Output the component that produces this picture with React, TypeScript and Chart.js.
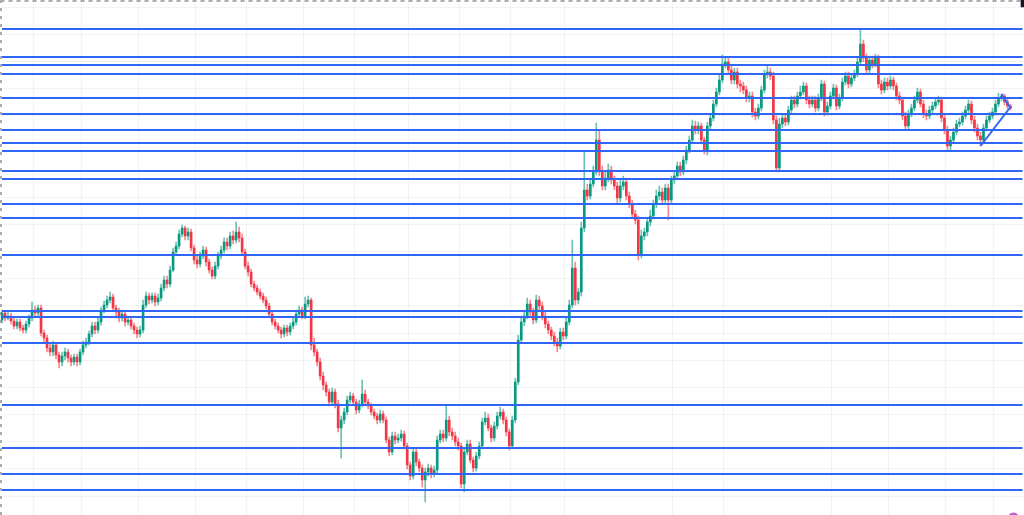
import React, { useEffect, useRef } from "react";
import { Chart, registerables } from "chart.js";

Chart.register(...registerables);

// Price values (arbitrary points, higher = up). 337 daily candles.
const OPEN = [
  280,287,282,284,279,274,278,272,270,276,
  282,290,287,292,267,262,252,248,255,245,
  238,244,248,242,238,243,238,248,255,258,
  266,274,270,278,290,295,300,303,292,288,
  282,286,278,280,274,270,266,270,295,304,
  300,304,298,302,312,320,316,330,348,354,
  366,372,364,368,352,340,336,344,350,338,
  330,324,334,344,350,358,354,364,360,368,
  362,348,334,328,316,312,308,304,300,294,
  286,278,274,270,266,272,268,274,278,286,
  290,284,296,300,255,248,238,224,215,208,
  198,208,196,172,180,188,200,204,198,190,
  196,206,198,194,188,184,180,186,180,160,
  148,164,160,162,166,154,135,124,148,138,
  132,120,128,132,126,130,160,166,162,180,
  168,164,158,154,116,148,156,140,132,144,
  154,178,182,172,162,174,184,188,180,168,
  154,180,218,260,278,284,296,288,280,300,
  294,284,276,270,264,258,254,268,264,278,
  295,332,300,308,372,410,404,416,428,460,
  428,414,422,430,420,414,402,414,418,404,
  396,386,380,346,364,368,378,384,396,404,
  408,400,412,400,420,424,434,428,440,450,
  460,474,470,474,460,450,474,482,496,508,
  520,536,538,530,520,528,516,514,510,502,
  504,488,484,492,510,526,528,524,480,432,
  476,482,478,490,500,496,504,508,514,500,
  496,500,492,502,516,488,494,504,512,494,
  502,518,524,516,522,526,538,556,542,530,
  540,536,542,516,510,518,514,520,514,504,
  500,484,474,486,492,500,508,496,486,484,
  490,494,498,500,482,470,454,460,468,476,
  478,484,490,496,480,472,464,460,472,480,
  484,488,496,502,504,498,494,
];

const CLOSE = [
  287,282,284,279,274,278,272,270,276,282,
  290,287,292,267,262,252,248,255,245,238,
  244,248,242,238,243,238,248,255,258,266,
  274,270,278,290,295,300,303,292,288,282,
  286,278,280,274,270,266,270,295,304,300,
  304,298,302,312,320,316,330,348,354,366,
  372,364,368,352,340,336,344,350,338,330,
  324,334,344,350,358,354,364,360,368,362,
  348,334,328,316,312,308,304,300,294,286,
  278,274,270,266,272,268,274,278,286,290,
  284,296,300,255,248,238,224,215,208,198,
  208,196,172,180,188,200,204,198,190,196,
  206,198,194,188,184,180,186,180,160,148,
  164,160,162,166,154,135,124,148,138,132,
  120,128,132,126,130,160,166,162,180,168,
  164,158,154,116,148,156,140,132,144,154,
  178,182,172,162,174,184,188,180,168,154,
  180,218,260,278,284,296,288,280,300,294,
  284,276,270,264,258,254,268,264,278,295,
  332,300,308,372,410,404,416,428,460,428,
  414,422,430,420,414,402,414,418,404,396,
  386,380,346,364,368,378,384,396,404,408,
  400,412,400,420,424,434,428,440,450,460,
  474,470,474,460,450,474,482,496,508,520,
  536,538,530,520,528,516,514,510,502,504,
  488,484,492,510,526,528,524,480,432,476,
  482,478,490,500,496,504,508,514,500,496,
  500,492,502,516,488,494,504,512,494,502,
  518,524,516,522,526,538,556,542,530,540,
  536,542,516,510,518,514,520,514,504,500,
  484,474,486,492,500,508,496,486,484,490,
  494,498,500,482,470,454,460,468,476,478,
  484,490,496,480,472,464,460,472,480,484,
  488,496,502,504,498,494,492,
];

const HIGH = [
  290,289,288,287,282,281,281,275,279,285,
  298,294,295,295,270,265,256,259,258,248,
  248,252,251,245,246,246,251,259,262,269,
  278,278,282,293,299,304,308,306,295,292,
  290,289,284,283,277,273,274,300,308,307,
  307,307,306,316,324,324,334,352,358,370,
  375,374,372,371,355,344,348,354,353,341,
  333,338,348,354,362,362,368,369,378,373,
  366,351,338,331,319,315,311,307,303,297,
  289,281,277,273,275,275,277,282,290,294,
  293,303,304,302,262,251,242,228,218,211,
  212,211,200,184,192,204,208,207,201,200,
  220,210,201,197,191,187,190,189,183,163,
  168,168,166,170,169,157,138,152,151,141,
  135,132,136,135,134,164,170,170,195,184,
  172,168,162,157,152,160,160,143,148,158,
  182,188,186,175,178,188,193,191,183,171,
  184,222,265,284,290,302,300,292,305,304,
  298,288,279,273,268,262,272,272,282,300,
  360,338,312,378,448,416,422,434,477,470,
  434,428,436,434,424,418,420,424,422,408,
  400,390,384,370,372,382,390,400,410,414,
  412,416,416,424,428,438,438,444,454,464,
  480,479,478,477,463,478,486,500,512,526,
  545,542,542,534,532,532,520,518,514,508,
  508,492,496,514,530,535,532,528,484,482,
  486,486,494,504,504,508,514,518,517,504,
  504,504,506,520,519,498,508,516,515,506,
  522,528,528,526,530,542,570,560,546,544,
  544,546,545,520,522,522,524,523,517,508,
  503,488,490,496,504,512,511,500,490,494,
  498,502,504,503,486,474,464,472,480,482,
  488,494,500,499,484,476,468,476,484,488,
  492,500,507,506,506,501,496,
];

const LOW = [
  277,279,280,276,271,271,269,267,267,273,
  279,283,284,264,258,248,244,244,241,232,
  234,240,238,234,235,234,235,245,252,255,
  263,266,267,275,287,292,297,289,284,278,
  279,274,275,271,266,262,263,267,292,296,
  297,294,295,299,309,312,313,328,344,351,
  363,360,360,349,336,332,333,341,334,327,
  321,321,331,341,347,350,351,356,357,358,
  345,331,324,313,309,305,301,297,291,283,
  275,271,267,262,263,264,265,271,275,283,
  281,281,293,250,244,234,220,210,204,194,
  195,192,168,142,176,185,197,195,186,187,
  193,194,191,185,181,176,177,177,157,144,
  145,156,157,159,151,131,120,121,134,128,
  113,98,124,122,123,127,157,158,159,164,
  160,154,150,112,108,145,137,128,129,141,
  151,175,169,158,159,171,181,176,164,150,
  151,177,215,257,274,281,284,276,277,290,
  280,272,266,260,254,248,251,260,261,275,
  292,295,296,304,368,400,401,413,425,424,
  410,410,418,416,410,397,398,410,400,392,
  382,376,340,342,360,364,374,381,392,400,
  396,397,380,396,416,421,424,425,436,447,
  456,466,466,456,446,445,470,479,493,505,
  517,532,526,516,516,512,508,506,498,498,
  483,480,481,489,507,522,520,476,428,428,
  472,474,475,487,492,493,501,505,496,492,
  493,488,489,499,484,485,491,501,490,491,
  499,515,512,513,519,523,535,538,526,527,
  532,533,512,506,507,510,511,510,500,496,
  480,470,471,483,489,497,493,482,480,481,
  487,491,495,478,466,450,450,457,465,473,
  475,481,487,476,468,460,454,456,469,477,
  481,485,493,499,495,491,490,
];

// Horizontal support / resistance levels
const LEVELS = [571, 543, 535, 526, 502, 486, 470, 457, 449, 429, 421, 396, 382, 345, 289, 283, 257, 195, 152, 126, 110];

// Trend lines: [candle index, price]
const TREND_UP: [number, number][] = [[326, 454], [336, 493]];
const TREND_DOWN: [number, number][] = [[333, 506], [336, 492]];

// Faint horizontal grid values and month-start candle indices (vertical grid)
const GRID_Y = [592.7, 565.55, 538.4, 511.25, 484.1, 456.95, 429.8, 402.65, 375.5, 348.35, 321.2, 294.05, 266.9, 239.75, 212.6, 185.45, 158.3, 131.15, 104];
const MONTH_STARTS = [11, 27, 46, 65, 82, 101, 118, 136, 153, 170, 188, 224, 241, 277, 296, 315, 331];

const SLOT_COUNT = 341;
const LABELS = Array.from({ length: SLOT_COUNT }, (_, i) => String(i));

const Y_MIN = 85;
const Y_MAX = 600;

export default function App() {
  const ref = useRef<HTMLCanvasElement>(null);

  useEffect(() => {
    if (!ref.current) return;
    const UP = "#089981";
    const DOWN = "#f23645";
    const UP_WICK = "rgba(8,153,129,0.6)";
    const DOWN_WICK = "rgba(242,54,69,0.6)";
    const BLUE = "#2f66f5";
    const GRID = "rgba(42,46,57,0.06)";
    const isUp = CLOSE.map((c, i) => c >= OPEN[i]);
    const last = LABELS[SLOT_COUNT - 1];

    const levelSets = LEVELS.map((v) => ({
      type: "line" as const,
      data: [
        { x: LABELS[0], y: v },
        { x: last, y: v },
      ],
      borderColor: BLUE,
      borderWidth: 2,
      pointRadius: 0,
      order: 0,
    }));

    const trendSet = (pts: [number, number][]) => ({
      type: "line" as const,
      data: pts.map(([i, v]) => ({ x: LABELS[i], y: v })),
      borderColor: BLUE,
      borderWidth: 2,
      pointRadius: 0,
      order: 0,
    });

    const chart = new Chart(ref.current, {
      type: "bar",
      data: {
        labels: LABELS,
        datasets: [
          ...levelSets,
          trendSet(TREND_UP),
          trendSet(TREND_DOWN),
          {
            type: "bar",
            data: OPEN.map((o, i) => [Math.min(o, CLOSE[i]), Math.max(o, CLOSE[i])]),
            backgroundColor: isUp.map((u) => (u ? UP : DOWN)),
            barThickness: 2,
            minBarLength: 1,
            grouped: false,
            order: 1,
          },
          {
            type: "bar",
            data: HIGH.map((h, i) => [LOW[i], h]),
            backgroundColor: isUp.map((u) => (u ? UP_WICK : DOWN_WICK)),
            barThickness: 1,
            grouped: false,
            order: 2,
          },
          {
            type: "bar",
            data: [{ x: last, y: [593, 600] }],
            backgroundColor: "#131722",
            barThickness: 3,
            grouped: false,
            order: 0,
          },
          {
            type: "line",
            data: [{ x: LABELS[337], y: 82 }],
            showLine: false,
            pointRadius: 5.5,
            pointHoverRadius: 5.5,
            pointBorderWidth: 0,
            pointBackgroundColor: "#c25bd6",
            clip: false,
            order: 0,
          },
        ] as any,
      },
      options: {
        responsive: false,
        devicePixelRatio: 1,
        animation: false,
        events: [],
        layout: { padding: { left: 0.5, right: 0, top: 0, bottom: 0 }, autoPadding: false },
        plugins: {
          legend: { display: false },
          tooltip: { enabled: false },
          title: { display: false },
        },
        scales: {
          x: {
            type: "category",
            position: "top",
            ticks: { display: false, autoSkip: false },
            grid: {
              color: (ctx: any) => (MONTH_STARTS.includes(ctx.index) ? GRID : "transparent"),
              drawTicks: false,
              lineWidth: 1,
            },
            border: { display: false, dash: [] },
          },
          y: {
            type: "linear",
            position: "left",
            min: Y_MIN,
            max: Y_MAX,
            afterBuildTicks: (scale: any) => {
              scale.ticks = GRID_Y.map((v) => ({ value: v }));
            },
            ticks: { display: false },
            grid: { color: GRID, drawTicks: false, lineWidth: 1 },
            border: { display: false, dash: [] },
          },
          // Dashed pane edges (left and top), drawn as single dashed grid lines
          xEdge: {
            type: "linear",
            position: "bottom",
            min: 0,
            max: 1,
            offset: false,
            afterBuildTicks: (scale: any) => {
              scale.ticks = [{ value: 0 }];
            },
            ticks: { display: false },
            grid: { color: "#a9acb4", lineWidth: 3, drawTicks: false, offset: false },
            border: { display: false, dash: [3, 5] },
          },
          yEdge: {
            type: "linear",
            position: "right",
            min: 0,
            max: 1,
            offset: false,
            afterBuildTicks: (scale: any) => {
              scale.ticks = [{ value: 1 }];
            },
            ticks: { display: false },
            grid: { color: "#a9acb4", lineWidth: 3, drawTicks: false, offset: false },
            border: { display: false, dash: [4, 4] },
          },
        },
      } as any,
    });
    return () => chart.destroy();
  }, []);

  return (
    <div style={{ position: "absolute", left: 0, top: 0, width: 1024, height: 515, background: "#ffffff" }}>
      <canvas ref={ref} width={1024} height={515} style={{ display: "block" }} />
    </div>
  );
}
